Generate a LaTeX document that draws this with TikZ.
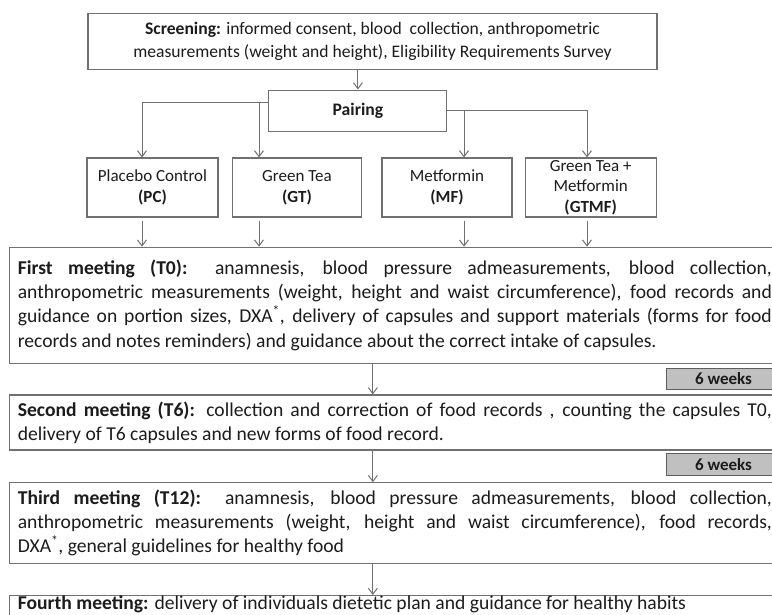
\documentclass[tikz,border=0pt]{standalone}
\usepackage{fontspec}
\setmainfont{Carlito}
\usepackage{xcolor}
\usetikzlibrary{arrows.meta, positioning, calc}
\definecolor{edgegray}{HTML}{707070}
\definecolor{tabfill}{HTML}{C0C0C0}
\definecolor{tabedge}{HTML}{5E5E5E}
\definecolor{inkdark}{HTML}{1C1C1C}
\tikzset{
    stage/.style={
        rectangle,
        draw=edgegray,
        line width=1.1pt,
        fill=white,
        text=inkdark,
        align=center,
        inner sep=2pt,
        font=\fontsize{17.6}{22.3}\selectfont
    },
    group/.style={
        rectangle,
        draw=edgegray,
        line width=1.1pt,
        fill=white,
        text=inkdark,
        align=center,
        inner sep=2pt,
        minimum height=59pt,
        font=\fontsize{17}{20.7}\selectfont
    },
    meeting/.style={
        rectangle,
        draw=edgegray,
        line width=1.1pt,
        fill=white,
        text=inkdark,
        text width=754pt,
        align=justify,
        inner xsep=8pt,
        inner ysep=3pt,
        font=\fontsize{19.6}{24.3}\selectfont
    },
    period/.style={
        rectangle,
        draw=tabedge,
        line width=1pt,
        fill=tabfill,
        text=inkdark,
        minimum width=114pt,
        minimum height=21.3pt,
        inner sep=0pt,
        font=\bfseries\fontsize{17}{18}\selectfont
    },
    wire/.style={
        draw=edgegray,
        line width=1pt,
        -{Straight Barb[length=6pt,width=9pt]}
    }
}

\begin{document}
\begin{tikzpicture}[x=1pt, y=1pt]
\useasboundingbox (0,0) rectangle (772,-614);

% Screening and pairing
\node[stage, minimum width=569pt, minimum height=56pt] (screen) at (372.5,-41.3)
    {\textbf{Screening:} informed consent, blood\ \ collection, anthropometric\\
     measurements (weight and height), Eligibility Requirements Survey};
\node[stage, minimum width=178pt, minimum height=41.7pt, font=\bfseries\fontsize{17.6}{22.3}\selectfont] (pair) at (357.9,-110.9) {Pairing};
\draw[wire] (pair.north |- screen.south) -- (pair.north);

% Study groups
\node[group, minimum width=131pt] (pc) at (152.5,-187.5) {Placebo Control\\\textbf{(PC)}};
\node[group, minimum width=129.7pt] (gt) at (296.9,-187.5) {Green Tea\\\textbf{(GT)}};
\node[group, minimum width=130pt] (mf) at (447,-187.5) {Metformin\\\textbf{(MF)}};
\node[group, minimum width=130.7pt] (gtmf) at (590.7,-187.5) {Green Tea +\\Metformin\\\textbf{(GTMF)}};

\coordinate (splitl) at ($(pair.north west)!0.31!(pair.south west)$);
\coordinate (splitr) at ($(pair.north east)!0.48!(pair.south east)$);
\draw[wire] (splitl) -| ([xshift=-10.5pt]pc.north);
\draw[wire] ([xshift=-37.9pt]gt.north |- splitl) -- ([xshift=-37.9pt]gt.north);
\draw[wire] (splitr) -| ([xshift=-3.7pt]gtmf.north);
\draw[wire] ([xshift=17pt]mf.north |- splitr) -- ([xshift=17pt]mf.north);

% Meetings
\node[meeting, minimum height=116pt, anchor=north west] (first) at (9.3,-246.7)
    {\textbf{First meeting (T0):} anamnesis, blood pressure admeasurements, blood collection,\linebreak
     anthropometric measurements (weight, height and waist circumference), food records and\linebreak
     guidance on portion sizes, DXA\textsuperscript{*}, delivery of capsules and support materials (forms for food\linebreak
     records and notes reminders) and guidance about the correct intake of capsules.};
\node[meeting, minimum height=55pt, below=30.6pt of first] (second)
    {\textbf{Second meeting (T6):} collection and correction of food records , counting the capsules T0,\linebreak
     delivery of T6 capsules and new forms of food record.};
\node[meeting, minimum height=80.7pt, below=31.7pt of second] (third)
    {\textbf{Third meeting (T12):} anamnesis, blood pressure admeasurements, blood collection,\linebreak
     anthropometric measurements (weight, height and waist circumference), food records,\linebreak
     DXA\textsuperscript{*}, general guidelines for healthy food};
\node[meeting, inner ysep=0.5pt, text depth=12pt, below=31pt of third] (fourth)
    {\textbf{Fourth meeting:} delivery of individuals dietetic plan and guidance for healthy habits};

\foreach \grp/\dx in {pc/-10.5, gt/-37.9, mf/17, gtmf/-3.7}
    \draw[wire] ([xshift=\dx pt, yshift=-3pt]\grp.south) -- ([xshift=\dx pt]\grp.south |- first.north);

\draw[wire] ([xshift=-22pt]first.south) -- ([xshift=-22pt]second.north);
\draw[wire] ([xshift=-22pt]second.south) -- ([xshift=-22pt]third.north);
\draw[wire] ([xshift=-22pt]third.south) -- ([xshift=-22pt]fourth.north);

% Intervals
\node[period, anchor=north west] (wk1) at (666,-367.7) {6 weeks};
\node[period, anchor=north west] (wk2) at (666,-453.3) {6 weeks};

\end{tikzpicture}
\end{document}
